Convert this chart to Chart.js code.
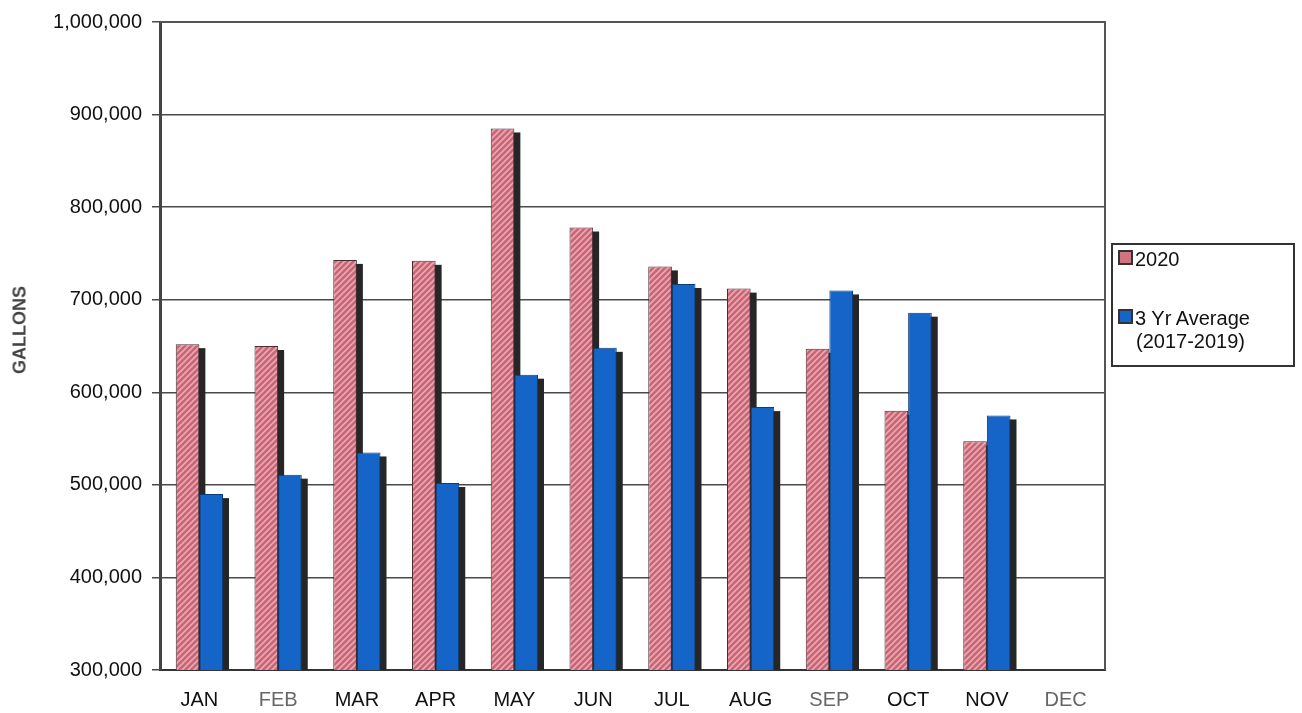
<!DOCTYPE html>
<html>
<head>
<meta charset="utf-8">
<script src="https://cdn.jsdelivr.net/npm/chart.js@4.4.1/dist/chart.umd.min.js"></script>
<style>
  html, body { margin: 0; padding: 0; background: #fff; }
  #wrap { position: relative; width: 1302px; height: 713px; }
  #legend {
    position: absolute; left: 1111px; top: 243px; width: 184px; height: 124px;
    border: 2px solid #333; box-sizing: border-box;
    font-family: "Liberation Sans", Arial, sans-serif; font-size: 20px; color: #111;
  }
  .item { position: absolute; left: 5px; line-height: 23px; }
  .sw { display: inline-block; width: 11px; height: 11px; border: 2px solid #333; vertical-align: 1px; margin-right: 2px; }
  .sub { padding-left: 18px; }
  #ytitle {
    position: absolute; left: 20px; top: 330px; transform: translate(-50%, -50%) rotate(-90deg);
    font-family: "Liberation Sans", Arial, sans-serif; font-weight: bold; font-size: 18px; color: #444;
  }
</style>
</head>
<body>
<div id="wrap">
  <canvas id="chart" width="1302" height="713"></canvas>
  <div id="ytitle">GALLONS</div>
  <div id="legend">
    <div class="item" style="top:3px"><span class="sw" style="background:#d07482"></span>2020</div>
    <div class="item" style="top:62px"><span class="sw" style="background:#1565c8"></span>3 Yr Average<br><span class="sub">(2017-2019)</span></div>
  </div>
</div>
<script>
// data
var months = ['JAN', 'FEB', 'MAR', 'APR', 'MAY', 'JUN', 'JUL', 'AUG', 'SEP', 'OCT', 'NOV', 'DEC'];
var gallons2020 = [652000, 650000, 743000, 742000, 885000, 778000, 736000, 712000, 647000, 580000, 547000, null];
var avg3yr = [490000, 511000, 535000, 502000, 619000, 648000, 717000, 584000, 710000, 686000, 575000, null];
var yMin = 300000, yMax = 1000000, yStep = 100000;
var grayMonths = ['FEB', 'SEP', 'DEC'];

// hatched pink fill
function makeHatch() {
    var c = document.createElement('canvas');
    c.width = 6; c.height = 6;
    var g = c.getContext('2d');
    g.fillStyle = '#c96575';
    g.fillRect(0, 0, 6, 6);
    g.strokeStyle = '#eba8b2';
    g.lineWidth = 1.6;
    g.beginPath();
    g.moveTo(-1, 7); g.lineTo(7, -1);
    g.moveTo(-4, 4); g.lineTo(4, -4);
    g.moveTo(2, 10); g.lineTo(10, 2);
    g.stroke();
    return g.createPattern(c, 'repeat');
}

// dark drop shadow behind each bar
var barShadow = {
    id: 'barShadow',
    beforeDatasetsDraw: function(chart) {
        var ctx = chart.ctx, a = chart.chartArea;
        ctx.save();
        ctx.beginPath();
        ctx.rect(a.left, a.top, a.right - a.left, a.bottom - a.top);
        ctx.clip();
        ctx.fillStyle = '#262626';
        chart.data.datasets.forEach(function(ds, i) {
            chart.getDatasetMeta(i).data.forEach(function(el) {
                var p = el.getProps(['x', 'y', 'base', 'width'], true);
                if (isNaN(p.y)) return;
                ctx.fillRect(p.x - p.width / 2 + 6, p.y + 4, p.width, p.base - p.y);
            });
        });
        ctx.restore();
    }
};

// outer frame of the plot
var frame = {
    id: 'frame',
    afterDraw: function(chart) {
        var ctx = chart.ctx, a = chart.chartArea;
        ctx.save();
        ctx.strokeStyle = '#555';
        ctx.lineWidth = 2;
        ctx.beginPath();
        ctx.moveTo(a.left, a.top);
        ctx.lineTo(a.right, a.top);
        ctx.lineTo(a.right, a.bottom);
        ctx.stroke();
        ctx.restore();
    }
};

var ctx = document.getElementById('chart');
var chart = new Chart(ctx, {
    type: 'bar',
    data: {
        labels: months,
        datasets: [{
            label: '2020',
            data: gallons2020,
            backgroundColor: makeHatch(),
            borderColor: '#4a2e34',
            borderWidth: 1,
            categoryPercentage: 0.6,
            barPercentage: 1.0
        }, {
            label: '3 Yr Average (2017-2019)',
            data: avg3yr,
            backgroundColor: '#1565c8',
            borderColor: '#0d3a78',
            borderWidth: 1,
            categoryPercentage: 0.6,
            barPercentage: 1.0
        }]
    },
    options: {
        responsive: false,
        animation: false,
        layout: { padding: { top: 18, right: 197, left: 0, bottom: 0 } },
        plugins: {
            legend: { display: false },
            tooltip: { enabled: false }
        },
        scales: {
            x: {
                grid: { display: false },
                border: { color: '#333', width: 2 },
                ticks: {
                    padding: 10,
                    color: function(c) { return grayMonths.indexOf(months[c.index]) >= 0 ? '#666' : '#111'; },
                    font: { family: '"Liberation Sans", Arial, sans-serif', size: 20 }
                },
                afterFit: function(s) { s.height = 43; }
            },
            y: {
                min: yMin,
                max: yMax,
                grid: { color: '#4a4a4a', lineWidth: 1.5, tickLength: 8 },
                border: { color: '#444', width: 3 },
                ticks: {
                    stepSize: yStep,
                    padding: 10,
                    color: '#111',
                    font: { family: '"Liberation Sans", Arial, sans-serif', size: 20 },
                    callback: function(v) { return v.toLocaleString('en-US'); }
                },
                afterFit: function(s) { s.width = 160; }
            }
        }
    },
    plugins: [barShadow, frame]
});
</script>
</body>
</html>
